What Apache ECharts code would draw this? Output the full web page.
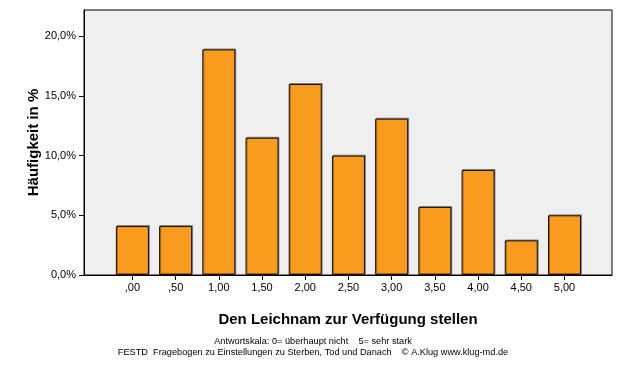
<!DOCTYPE html>
<html><head><meta charset="utf-8">
<script src="https://cdn.jsdelivr.net/npm/echarts@6/dist/echarts.min.js"></script>
<style>html,body{margin:0;padding:0;background:#fff}#c{width:626px;height:366px}</style>
</head><body><div id="c"></div>
<script>
const categories = [0, 0.5, 1, 1.5, 2, 2.5, 3, 3.5, 4, 4.5, 5];
const tickLabels = [',00', ',50', '1,00', '1,50', '2,00', '2,50', '3,00', '3,50', '4,00', '4,50', '5,00'];
const values = [4.1, 4.1, 18.9, 11.5, 16.0, 10.0, 13.1, 5.7, 8.8, 2.9, 5.0];
const yTicks = [0, 5, 10, 15, 20];

const chart = echarts.init(document.getElementById('c'), null, {renderer: 'canvas'});
const font = 'Liberation Sans, Arial, sans-serif';
chart.setOption({
  animation: false,
  textStyle: {fontFamily: font},
  title: [
    {text: 'Antwortskala: 0= überhaupt nicht    5= sehr stark', left: 'center', top: 332,
     textStyle: {fontSize: 9.2, fontWeight: 'normal', color: '#000', fontFamily: font}},
    {text: 'FESTD  Fragebogen zu Einstellungen zu Sterben, Tod und Danach    © A.Klug www.klug-md.de', left: 'center', top: 343,
     textStyle: {fontSize: 9.2, fontWeight: 'normal', color: '#000', fontFamily: font}}
  ],
  grid: {left: 84, right: 14, top: 10, bottom: 91, show: true, backgroundColor: '#EFEFEF', borderColor: '#000', borderWidth: 1},
  xAxis: {
    type: 'value', min: -0.56, max: 5.55,
    name: 'Den Leichnam zur Verfügung stellen', nameLocation: 'middle', nameGap: 37, nameMoveOverlap: false,
    nameTextStyle: {fontSize: 15, fontWeight: 'bold', color: '#000', fontFamily: font},
    axisLine: {show: true, onZero: false, lineStyle: {color: '#000'}},
    splitLine: {show: false},
    axisTick: {show: true, length: 5, lineStyle: {color: '#000'}, customValues: categories},
    axisLabel: {customValues: categories, fontSize: 11, color: '#000', margin: 7,
      formatter: v => { const i = categories.findIndex(c => Math.abs(c - v) < 1e-6); return i >= 0 ? tickLabels[i] : ''; }}
  },
  yAxis: {
    type: 'value', min: 0, max: 22.2, interval: 5,
    name: 'Häufigkeit in %', nameLocation: 'middle', nameGap: 42.5, nameMoveOverlap: false,
    nameTextStyle: {fontSize: 15, fontWeight: 'bold', color: '#000', fontFamily: font},
    axisLine: {show: true, onZero: false, lineStyle: {color: '#000'}},
    splitLine: {show: false},
    axisTick: {show: true, length: 5, lineStyle: {color: '#000'}, customValues: yTicks},
    axisLabel: {customValues: yTicks, fontSize: 11, color: '#000', margin: 8,
      formatter: v => v.toFixed(1).replace('.', ',') + '%'}
  },
  series: [{
    type: 'bar',
    barWidth: 33,
    data: categories.map((c, i) => [c, values[i]]),
    itemStyle: {color: '#F99B1F', borderColor: '#111', borderWidth: 1,
      shadowColor: 'rgba(0,0,0,0.35)', shadowOffsetX: 1, shadowOffsetY: -1, shadowBlur: 0}
  }]
});
</script></body></html>
